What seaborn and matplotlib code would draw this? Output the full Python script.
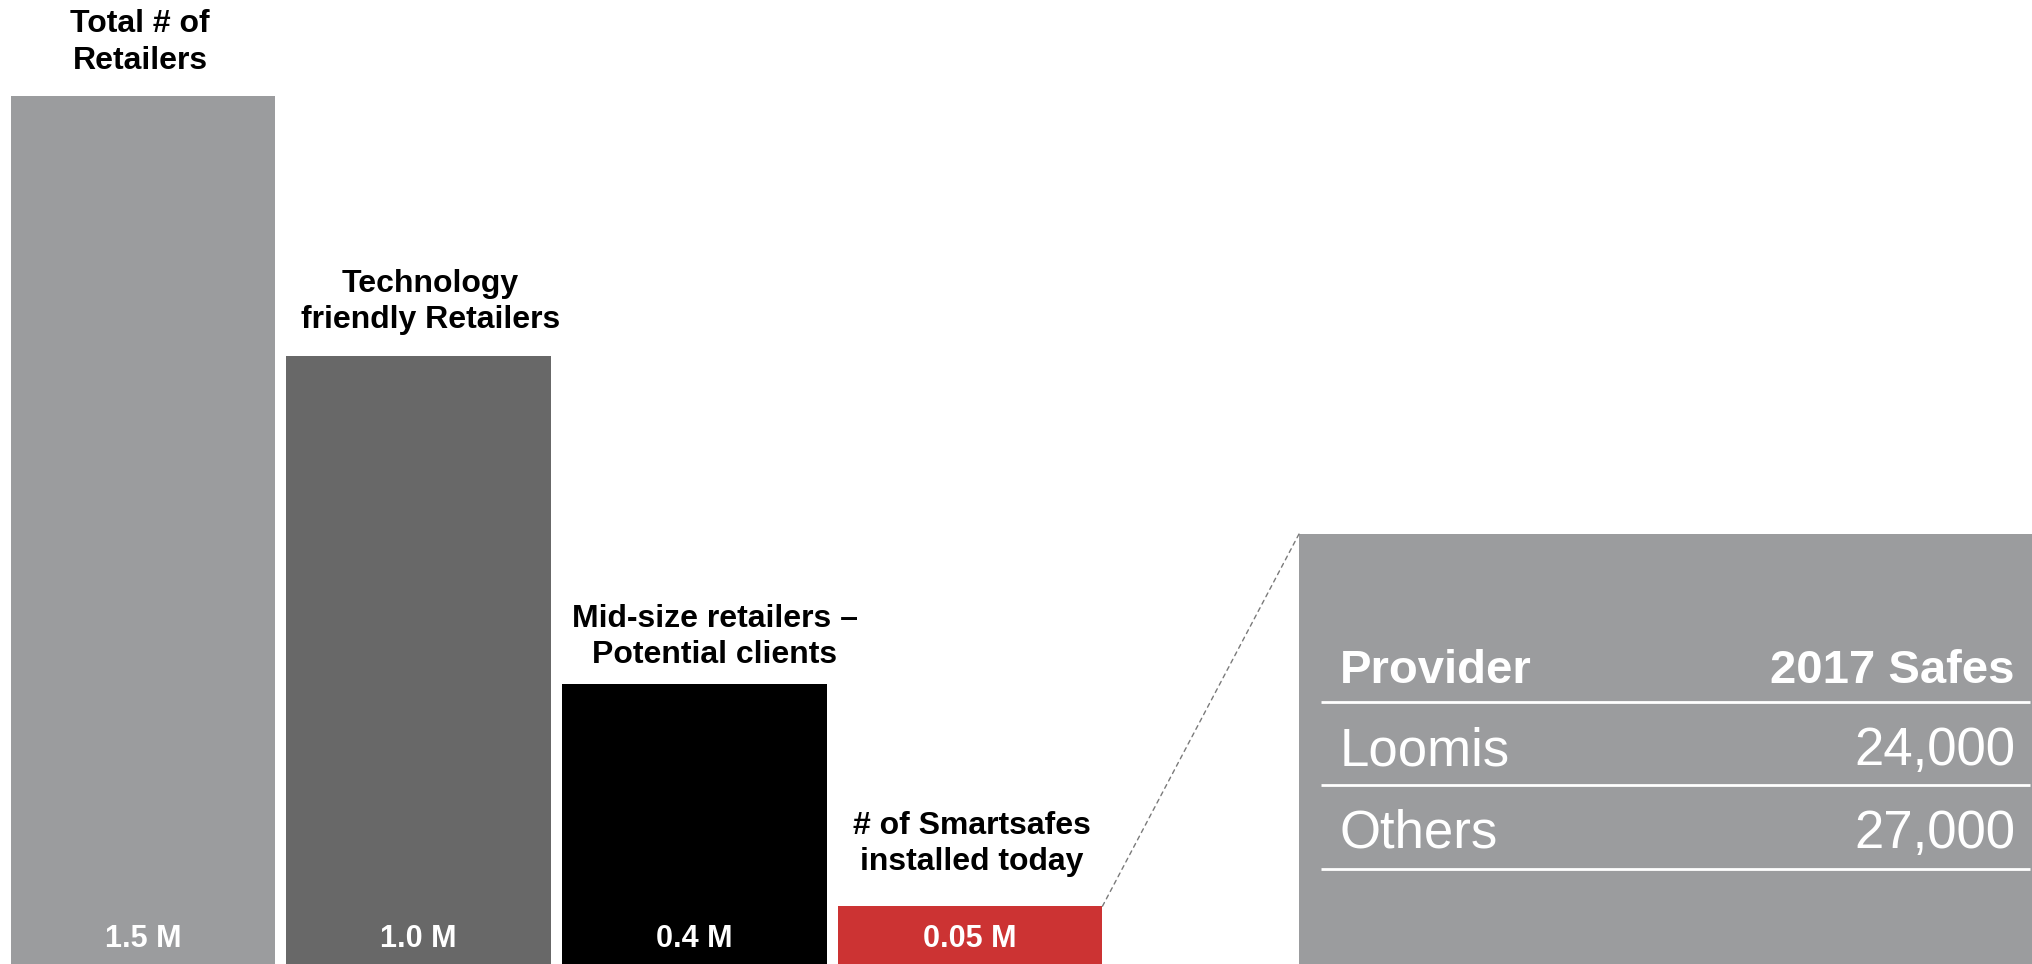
import numpy as np
import pandas as pd
import matplotlib
matplotlib.use("Agg")
import matplotlib.pyplot as plt
import seaborn as sns
from matplotlib.patches import ConnectionPatch

# Funnel stages (millions of retailers)
stages = ["Total # of\nRetailers",
          "Technology\nfriendly Retailers",
          "Mid-size retailers –\nPotential clients",
          "# of Smartsafes\ninstalled today"]
retailers_m = [1.5, 1.0, 0.4, 0.05]
value_labels = ["1.5 M", "1.0 M", "0.4 M", "0.05 M"]
bar_colors = ["#9B9C9E", "#686868", "#000000", "#CC3333"]

# Smartsafe providers table
table_header = ["Provider", "2017 Safes"]
providers = ["Loomis", "Others"]
safes_2017 = [24000, 27000]

sns.set_theme(style="white")
plt.rcParams["font.family"] = ["Liberation Sans", "DejaVu Sans"]

W, H = 2033, 964
fig = plt.figure(figsize=(W / 100, H / 100), dpi=100)
fig.patch.set_facecolor("white")

# ---- funnel bars ----
ax = fig.add_axes([5 / W, 0, 1103 / W, 1])
df = pd.DataFrame({"stage": stages, "value": retailers_m})
sns.barplot(data=df, x="stage", y="value", hue="stage", palette=bar_colors,
            saturation=1, width=0.96, legend=False, linewidth=0, ax=ax)

# compressed value axis (linear + square-root blend) so small stages stay visible
R = 0.351


def _fwd(v):
    v = np.clip(v, 0, None)
    return v + R * np.sqrt(v)


def _inv(u):
    u = np.clip(u, 0, None)
    s = (-R + np.sqrt(R * R + 4 * u)) / 2
    return s * s


ax.set_yscale("function", functions=(_fwd, _inv))
ax.set_ylim(0, _inv(964 / 450))
ax.set_xlim(-0.5, 3.5)
ax.axis("off")

# stage titles above the bars: (horizontal shift, last-baseline gap in pixels)
title_pos = [(-0.01, 27), (0.042, 28), (0.073, 21), (0.007, 36)]
for i, (name, v) in enumerate(zip(stages, retailers_m)):
    dx, gap = title_pos[i]
    ax.annotate(name, xy=(i + dx, v), xytext=(0, gap), textcoords="offset pixels",
                ha="center", va="baseline", ma="center", fontsize=23,
                fontweight="bold", color="black", linespacing=1.28)
    ax.annotate(value_labels[i], xy=(i, 0), xytext=(0, 17), textcoords="offset pixels",
                ha="center", va="baseline", fontsize=22, fontweight="bold",
                color="white")

# ---- provider table panel ----
px0, pw, ph = 1299, W - 1299, 430
tab = fig.add_axes([px0 / W, 0, pw / W, ph / H])
tab.set_xlim(0, pw)
tab.set_ylim(0, ph)
tab.set_facecolor("#9B9C9E")
for s in tab.spines.values():
    s.set_visible(False)
tab.set_xticks([])
tab.set_yticks([])

tab.text(41, 281, table_header[0], ha="left", va="baseline", fontsize=34,
         fontweight="bold", color="white")
tab.text(716, 281, table_header[1], ha="right", va="baseline", fontsize=34,
         fontweight="bold", color="white")
row_base = [199, 116]
for name, n, yb in zip(providers, safes_2017, row_base):
    tab.text(41, yb, name, ha="left", va="baseline", fontsize=38, color="white")
    tab.text(716, yb, f"{n:,}", ha="right", va="baseline", fontsize=38, color="white")
for yl in [262, 179, 95]:
    tab.plot([22, 731], [yl, yl], color="white", lw=2.0, solid_capstyle="butt")

# dashed leader from the smartsafe bar to the table
con = ConnectionPatch(xyA=(3 + 0.48, retailers_m[3]), coordsA=ax.transData,
                      xyB=(0, ph), coordsB=tab.transData,
                      color="#7A7A7A", lw=1.0, linestyle=(0, (3, 3)))
fig.add_artist(con)

fig.savefig("out.png", dpi=100, facecolor="white")
